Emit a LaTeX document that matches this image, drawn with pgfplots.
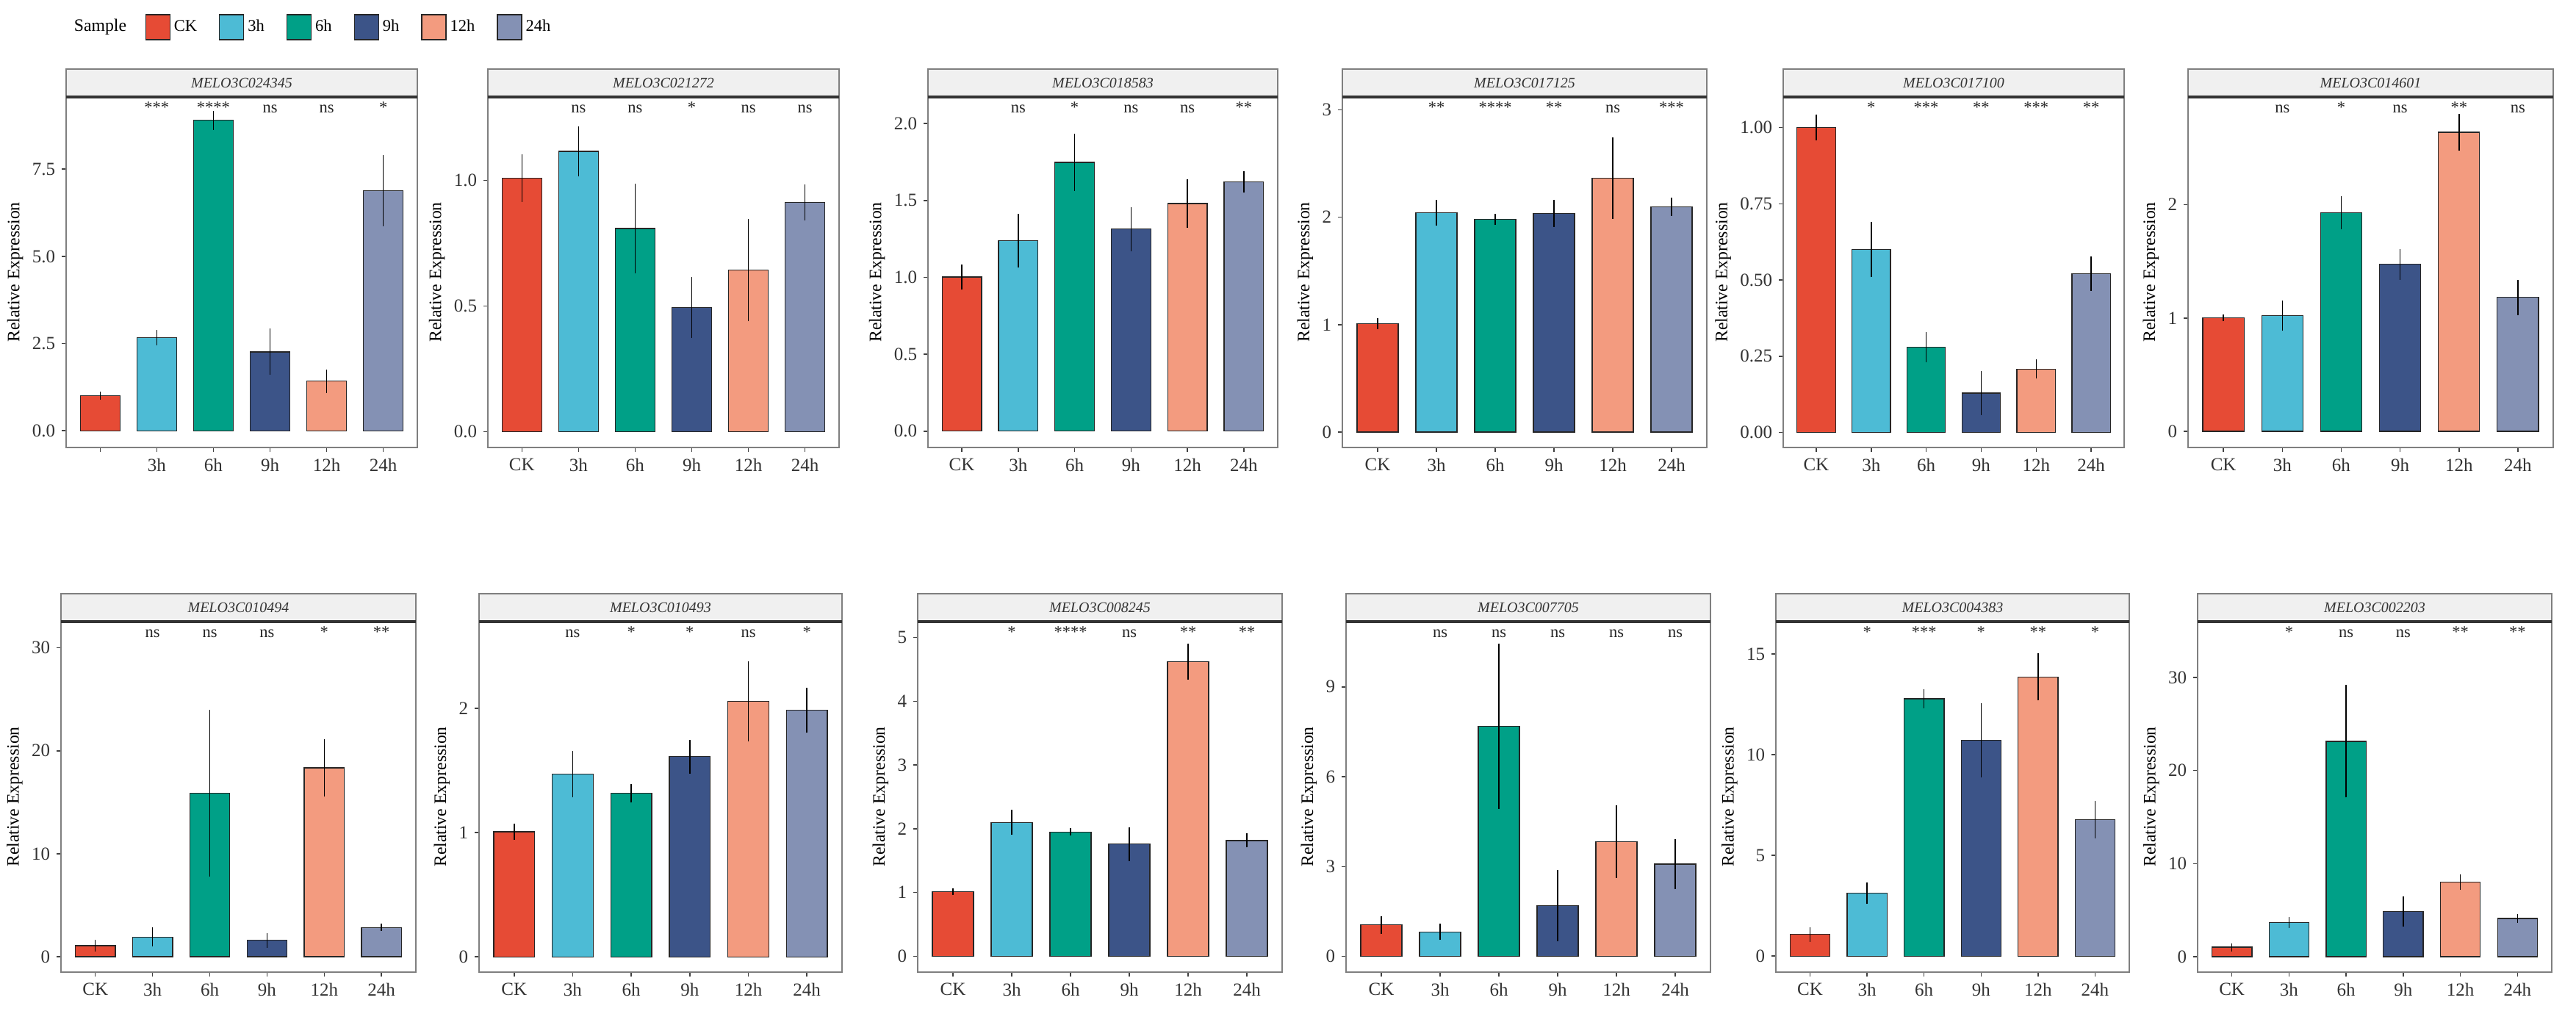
\documentclass[border=0pt]{standalone}
\usepackage{fontspec}
\setmainfont{Liberation Serif}
\usepackage{pgfplots}
\pgfplotsset{compat=1.18}
\definecolor{c0}{HTML}{E64B35}
\definecolor{c1}{HTML}{4DBBD5}
\definecolor{c2}{HTML}{00A087}
\definecolor{c3}{HTML}{3C5488}
\definecolor{c4}{HTML}{F39B7F}
\definecolor{c5}{HTML}{8491B4}
\definecolor{framec}{HTML}{7F7F7F}
\definecolor{stripbg}{HTML}{F0F0F0}

\newcommand{\gbar}[3]{\addplot[fill=c#1] coordinates {(#1,#2) +- (0,#3)};}
\newcommand{\sig}[2]{\node[font=\fontsize{9}{10}\selectfont, anchor=base, text=black!85] at ({axis cs:#1,0}|-{rel axis cs:0,0.954}) {#2};}
\newcommand{\strip}[1]{%
  \draw[framec, fill=stripbg, line width=0.8pt] (rel axis cs:0,1) rectangle ([yshift=15.2pt]rel axis cs:1,1);
  \draw[black!80, line width=1.5pt] (rel axis cs:0,1) -- (rel axis cs:1,1);
  \node[font=\fontsize{8}{9}\selectfont\itshape, text=black!80] at ([yshift=7.6pt]rel axis cs:0.5,1) {#1};}

\pgfplotsset{panel/.style={
  scale only axis, anchor=south west, clip=false,
  height=190.8pt,
  ybar, bar width=0.7, bar shift=0pt,
  xmin=-0.6, xmax=5.6, xtick={0,1,2,3,4,5}, xticklabels={CK,3h,6h,9h,12h,24h},
  tick align=outside, tick pos=left,
  major tick length=2.4pt,
  tick style={black!75, line width=0.6pt},
  axis line style={framec, line width=1pt},
  ticklabel style={font=\fontsize{10}{12}\selectfont, text=black!80},
  ylabel={Relative Expression},
  ylabel style={font=\fontsize{9.5}{11}\selectfont, inner sep=1.5pt},
  every axis plot/.append style={draw=black!85, line width=0.5pt,
     error bars/y dir=both, error bars/y explicit,
     error bars/error bar style={black, line width=0.6pt},
     error bars/error mark options={black, mark size=1.2pt, line width=0.6pt}},
}}

\begin{document}
\begin{tikzpicture}
\useasboundingbox (0,0) rectangle (1402.4pt,551.6pt);

% ---------- top row ----------
\begin{axis}[panel, at={(36pt,308pt)}, width=191.2pt,
  ymin=-0.48, ymax=9.57, ytick={0,2.5,5,7.5}, yticklabels={0.0,2.5,5.0,7.5},
  xticklabels={,3h,6h,9h,12h,24h},
  every axis plot post/.append style={legend image code/.code={\draw[##1] (0pt,-6.8pt) rectangle (13.2pt,6.8pt);}},
  legend columns=-1,
  legend entries={CK,3h,6h,9h,12h,24h},
  legend style={at={([xshift=42.8pt,yshift=38pt]rel axis cs:0,1)}, anchor=west, draw=none, fill=none, inner sep=0pt,
    font=\fontsize{9}{10}\selectfont, /tikz/every even column/.append style={column sep=10pt}}]
\gbar0{1.00}{0.05}\gbar1{2.67}{0.15}\gbar2{8.90}{0.21}\gbar3{2.26}{0.60}\gbar4{1.42}{0.27}\gbar5{6.89}{0.96}
\sig1{***}\sig2{****}\sig3{ns}\sig4{ns}\sig5{*}
\strip{MELO3C024345}
\node[anchor=west, font=\fontsize{9.5}{10}\selectfont] at ([xshift=0.8pt,yshift=38pt]rel axis cs:0,1) {Sample};
\end{axis}

\begin{axis}[panel, at={(265.6pt,308pt)}, width=191.2pt,
  ymin=-0.063, ymax=1.331, ytick={0,0.5,1}, yticklabels={0.0,0.5,1.0}]
\gbar0{1.008}{0.085}\gbar1{1.115}{0.09}\gbar2{0.808}{0.17}\gbar3{0.493}{0.112}\gbar4{0.642}{0.195}\gbar5{0.912}{0.063}
\sig1{ns}\sig2{ns}\sig3{*}\sig4{ns}\sig5{ns}
\strip{MELO3C021272}
\end{axis}

\begin{axis}[panel, at={(505.2pt,308pt)}, width=190.4pt,
  ymin=-0.106, ymax=2.173, ytick={0,0.5,1,1.5,2}, yticklabels={0.0,0.5,1.0,1.5,2.0}]
\gbar0{1.003}{0.066}\gbar1{1.238}{0.16}\gbar2{1.748}{0.172}\gbar3{1.314}{0.13}\gbar4{1.48}{0.143}\gbar5{1.621}{0.053}
\sig1{ns}\sig2{*}\sig3{ns}\sig4{ns}\sig5{**}
\strip{MELO3C018583}
\end{axis}

\begin{axis}[panel, at={(730.8pt,308pt)}, width=198.4pt,
  ymin=-0.144, ymax=3.12, ytick={0,1,2,3}, yticklabels={0,1,2,3}]
\gbar0{1.01}{0.03}\gbar1{2.044}{0.098}\gbar2{1.979}{0.03}\gbar3{2.036}{0.106}\gbar4{2.363}{0.36}\gbar5{2.097}{0.062}
\sig1{**}\sig2{****}\sig3{**}\sig4{ns}\sig5{***}
\strip{MELO3C017125}
\end{axis}

\begin{axis}[panel, at={(970.8pt,308pt)}, width=185.6pt,
  ymin=-0.049, ymax=1.100, ytick={0,0.25,0.5,0.75,1}, yticklabels={0.00,0.25,0.50,0.75,1.00}]
\gbar0{1.0}{0.036}\gbar1{0.600}{0.084}\gbar2{0.280}{0.043}\gbar3{0.129}{0.065}\gbar4{0.208}{0.024}\gbar5{0.521}{0.049}
\sig1{*}\sig2{***}\sig3{**}\sig4{***}\sig5{**}
\strip{MELO3C017100}
\end{axis}

\begin{axis}[panel, at={(1191.2pt,308pt)}, width=198.8pt,
  ymin=-0.142, ymax=2.951, ytick={0,1,2}, yticklabels={0,1,2}]
\gbar0{1.0}{0.01}\gbar1{1.021}{0.112}\gbar2{1.93}{0.128}\gbar3{1.474}{0.118}\gbar4{2.64}{0.14}\gbar5{1.183}{0.137}
\sig1{ns}\sig2{*}\sig3{ns}\sig4{**}\sig5{ns}
\strip{MELO3C014601}
\end{axis}

% ---------- bottom row ----------
\begin{axis}[panel, at={(33.2pt,22.4pt)}, width=193.2pt,
  ymin=-1.49, ymax=32.54, ytick={0,10,20,30}, yticklabels={0,10,20,30}]
\gbar0{1.08}{0.35}\gbar1{1.92}{0.70}\gbar2{15.87}{7.87}\gbar3{1.61}{0.5}\gbar4{18.35}{2.55}\gbar5{2.85}{0.12}
\sig1{ns}\sig2{ns}\sig3{ns}\sig4{*}\sig5{**}
\strip{MELO3C010494}
\end{axis}

\begin{axis}[panel, at={(260.8pt,22.4pt)}, width=197.6pt,
  ymin=-0.123, ymax=2.696, ytick={0,1,2}, yticklabels={0,1,2}]
\gbar0{1.006}{0.05}\gbar1{1.469}{0.17}\gbar2{1.314}{0.056}\gbar3{1.61}{0.118}\gbar4{2.054}{0.303}\gbar5{1.982}{0.163}
\sig1{ns}\sig2{*}\sig3{*}\sig4{ns}\sig5{*}
\strip{MELO3C010493}
\end{axis}

\begin{axis}[panel, at={(499.6pt,22.4pt)}, width=198.4pt,
  ymin=-0.25, ymax=5.25, ytick={0,1,2,3,4,5}, yticklabels={0,1,2,3,4,5}]
\gbar0{1.01}{0.02}\gbar1{2.10}{0.16}\gbar2{1.95}{0.02}\gbar3{1.76}{0.23}\gbar4{4.625}{0.25}\gbar5{1.815}{0.075}
\sig1{*}\sig2{****}\sig3{ns}\sig4{**}\sig5{**}
\strip{MELO3C008245}
\end{axis}

\begin{axis}[panel, at={(732.8pt,22.4pt)}, width=198.4pt,
  ymin=-0.525, ymax=11.18, ytick={0,3,6,9}, yticklabels={0,3,6,9}]
\gbar0{1.05}{0.22}\gbar1{0.82}{0.2}\gbar2{7.69}{2.69}\gbar3{1.70}{1.11}\gbar4{3.83}{1.14}\gbar5{3.08}{0.77}
\sig1{ns}\sig2{ns}\sig3{ns}\sig4{ns}\sig5{ns}
\strip{MELO3C007705}
\end{axis}

\begin{axis}[panel, at={(966.8pt,22.4pt)}, width=192.4pt,
  ymin=-0.795, ymax=16.6, ytick={0,5,10,15}, yticklabels={0,5,10,15}]
\gbar0{1.07}{0.26}\gbar1{3.12}{0.43}\gbar2{12.77}{0.35}\gbar3{10.71}{1.73}\gbar4{13.86}{1.07}\gbar5{6.78}{0.83}
\sig1{*}\sig2{***}\sig3{*}\sig4{**}\sig5{*}
\strip{MELO3C004383}
\end{axis}

\begin{axis}[panel, at={(1196.4pt,22.4pt)}, width=192.8pt,
  ymin=-1.65, ymax=36.0, ytick={0,10,20,30}, yticklabels={0,10,20,30}]
\gbar0{1.03}{0.2}\gbar1{3.67}{0.35}\gbar2{23.14}{5.8}\gbar3{4.87}{1.4}\gbar4{8.02}{0.6}\gbar5{4.11}{0.25}
\sig1{*}\sig2{ns}\sig3{ns}\sig4{**}\sig5{**}
\strip{MELO3C002203}
\end{axis}

\end{tikzpicture}
\end{document}
